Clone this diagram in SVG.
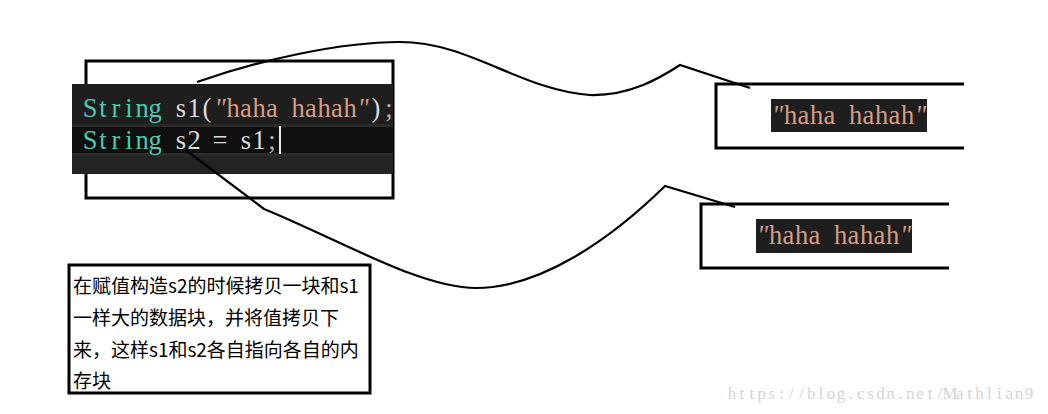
<svg xmlns="http://www.w3.org/2000/svg" width="1048" height="414" viewBox="0 0 1048 414">
<style>
.frame{fill:none;stroke:#000;stroke-width:3}
.code{font-family:"Liberation Serif","DejaVu Serif",serif;font-size:26.5px;text-anchor:middle}
.kw{fill:#4ec9b0}
.id{fill:#dcdcdc}
.str{fill:#d69d85}
.pun{fill:#b4b4b4}
.q{font-style:italic}
.note{font-family:"Noto Sans CJK SC","Noto Sans",sans-serif;font-size:19px;fill:#000}
.wm{font-family:"Liberation Serif","DejaVu Serif",serif;font-size:17px;fill:#d4d4d4;text-anchor:middle}
.link{fill:none;stroke:#000;stroke-width:2.2;stroke-linejoin:miter;stroke-linecap:butt}
</style>
<rect width="1048" height="414" fill="#fff"/>

<g id="code-block">
<rect x="86" y="61" width="307" height="137" fill="#fff" stroke="#000" stroke-width="3"/>
<rect x="72" y="84" width="321" height="90" fill="#1e1e1e"/>
<rect x="72" y="124" width="321" height="3" fill="#2b2b2b"/>
<rect x="72" y="127" width="321" height="26" fill="#0f0f0f"/>
<rect x="72" y="153" width="321" height="3" fill="#2b2b2b"/>
<rect x="72" y="156" width="321" height="18" fill="#232323"/>
<text class="code" y="117"><tspan class="kw" x="90 103 116 129 142 155 168">String </tspan><tspan class="id" x="181 194 207">s1(</tspan><tspan class="str q" x="220">"</tspan><tspan class="str" x="233 246 259 272 285 298 311 324 337 350">haha hahah</tspan><tspan class="str q" x="363">"</tspan><tspan class="id" x="376">)</tspan><tspan class="pun" x="389">;</tspan></text>
<text class="code" y="149"><tspan class="kw" x="90 103 116 129 142 155 168">String </tspan><tspan class="id" x="181 194 207 220 233 246 259">s2 = s1</tspan><tspan class="pun" x="272">;</tspan></text>
<rect x="279" y="126" width="2" height="28" fill="#e8e8e8"/>
</g>

<g id="value-a">
<path class="frame" d="M964,84 H716 V148 H964"/>
<rect x="771" y="99" width="156" height="33" fill="#1e1e1e"/>
<text class="code str" y="124"><tspan class="q" x="777.5">"</tspan><tspan x="790.5 803.5 816.5 829.5 842.5 855.5 868.5 881.5 894.5 907.5">haha hahah</tspan><tspan class="q" x="920.5">"</tspan></text>
</g>

<g id="value-b">
<path class="frame" d="M949,204 H701 V268 H949"/>
<rect x="756" y="219" width="156" height="34" fill="#1e1e1e"/>
<text class="code str" y="244"><tspan class="q" x="762.5">"</tspan><tspan x="775.5 788.5 801.5 814.5 827.5 840.5 853.5 866.5 879.5 892.5">haha hahah</tspan><tspan class="q" x="905.5">"</tspan></text>
</g>

<g id="note">
<rect class="frame" x="69" y="265" width="301" height="128"/>
<text class="note" x="73" y="293">在赋值构造s2的时候拷贝一块和s1</text>
<text class="note" x="73" y="325">一样大的数据块，并将值拷贝下</text>
<text class="note" x="73" y="357">来，这样s1和s2各自指向各自的内</text>
<text class="note" x="73" y="388">存块</text>
</g>

<g id="connectors">
<path class="link" d="M197,82 C260,60 340,42 400,42 C470,42 520,90 590,95 C630,96 660,78 680,65 L750,88"/>
<path class="link" d="M187,151 L264,209 C340,240 420,288 476,288 C540,288 610,240 665,186 L735,207"/>
</g>

<g id="watermark">
<text class="wm" y="399" x="732 741.9 751.8 761.7 771.6 781.5 791.4 801.3 811.2 821.1 831 840.9 850.8 860.7 870.6 880.5 890.4 900.3 910.2 920.1 930 939.9 949.8 959.7 969.6 979.5 989.4 999.3 1009.2 1019.1 1029">https://blog.csdn.net/Mathlian9</text>
</g>
</svg>
